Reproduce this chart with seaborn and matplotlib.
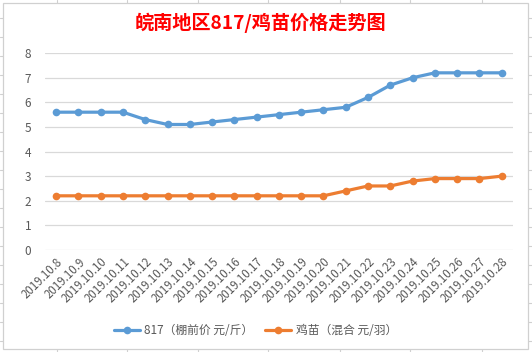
import pandas as pd
import matplotlib.pyplot as plt
import seaborn as sns
from matplotlib.lines import Line2D
from matplotlib.patches import Rectangle

# Data
dates = ['2019.10.8', '2019.10.9', '2019.10.10', '2019.10.11', '2019.10.12',
         '2019.10.13', '2019.10.14', '2019.10.15', '2019.10.16', '2019.10.17',
         '2019.10.18', '2019.10.19', '2019.10.20', '2019.10.21', '2019.10.22',
         '2019.10.23', '2019.10.24', '2019.10.25', '2019.10.26', '2019.10.27',
         '2019.10.28']
price_817 = [5.6, 5.6, 5.6, 5.6, 5.3, 5.1, 5.1, 5.2, 5.3, 5.4, 5.5,
             5.6, 5.7, 5.8, 6.2, 6.7, 7.0, 7.2, 7.2, 7.2, 7.2]
price_chick = [2.2, 2.2, 2.2, 2.2, 2.2, 2.2, 2.2, 2.2, 2.2, 2.2, 2.2,
               2.2, 2.2, 2.4, 2.6, 2.6, 2.8, 2.9, 2.9, 2.9, 3.0]
series_names = ['817（棚前价 元/斤）', '鸡苗（混合 元/羽）']
title = '皖南地区817/鸡苗价格走势图'

df = pd.concat([
    pd.DataFrame({'date': dates, 'price': price_817, 'series': series_names[0]}),
    pd.DataFrame({'date': dates, 'price': price_chick, 'series': series_names[1]}),
])

sns.set_style('white')
plt.rcParams['font.family'] = ['Noto Sans CJK SC', 'DejaVu Sans']

fig, ax = plt.subplots(figsize=(5.32, 3.52), dpi=100)
fig.subplots_adjust(left=0.0846, right=0.964, top=0.849, bottom=0.290)

# spreadsheet cell lines outside the chart box
for x in [57, 127, 198, 268, 340, 410, 482]:
    fig.add_artist(Line2D([x / 532, x / 532], [1, 1 - 3 / 352], color='#d0d0d0', lw=0.8))
    fig.add_artist(Line2D([x / 532, x / 532], [0, 3 / 352], color='#d0d0d0', lw=0.8))
for y in range(18, 352, 19):
    fig.add_artist(Line2D([0, 3 / 532], [1 - y / 352] * 2, color='#d0d0d0', lw=0.8))
    fig.add_artist(Line2D([528 / 532, 1], [1 - y / 352] * 2, color='#d0d0d0', lw=0.8))
fig.add_artist(Rectangle((3 / 532, 3 / 352), 525 / 532, 346 / 352, transform=fig.transFigure,
                         fill=False, edgecolor='#d0d0d0', lw=0.9))

sns.lineplot(data=df, x='date', y='price', hue='series',
             palette=['#5B9BD5', '#ED7D31'], marker='o', markersize=5.5,
             markeredgewidth=0, linewidth=2.3, ax=ax, legend=False)

ax.set_ylim(0, 8)
ax.set_xlim(-0.5, len(dates) - 0.5)
ax.set_yticks(range(0, 9))
ax.grid(axis='y', color='#d9d9d9', lw=0.9)
ax.set_axisbelow(True)
for s in ax.spines.values():
    s.set_visible(False)
ax.set_xlabel('')
ax.set_ylabel('')
ax.tick_params(axis='y', labelsize=8.5, colors='#595959', length=0, pad=10)
ax.tick_params(axis='x', labelsize=8.3, colors='#595959', length=0, pad=4)
plt.setp(ax.get_xticklabels(), rotation=45, ha='right', rotation_mode='anchor')

fig.text(0.49, 1 - 23 / 352, title, color='red', fontsize=13.8,
         fontweight='bold', ha='center', va='center')

handles = [Line2D([], [], color=c, lw=2.3, marker='o', markersize=5.5, markeredgewidth=0)
           for c in ['#5B9BD5', '#ED7D31']]
fig.legend(handles, series_names, loc='center', bbox_to_anchor=(0.48, 1 - 331 / 352),
           ncol=2, frameon=False, fontsize=8.5, handlelength=2.2, columnspacing=1.0,
           handletextpad=0.4, labelcolor='#595959')

plt.savefig('out.png', dpi=100)
